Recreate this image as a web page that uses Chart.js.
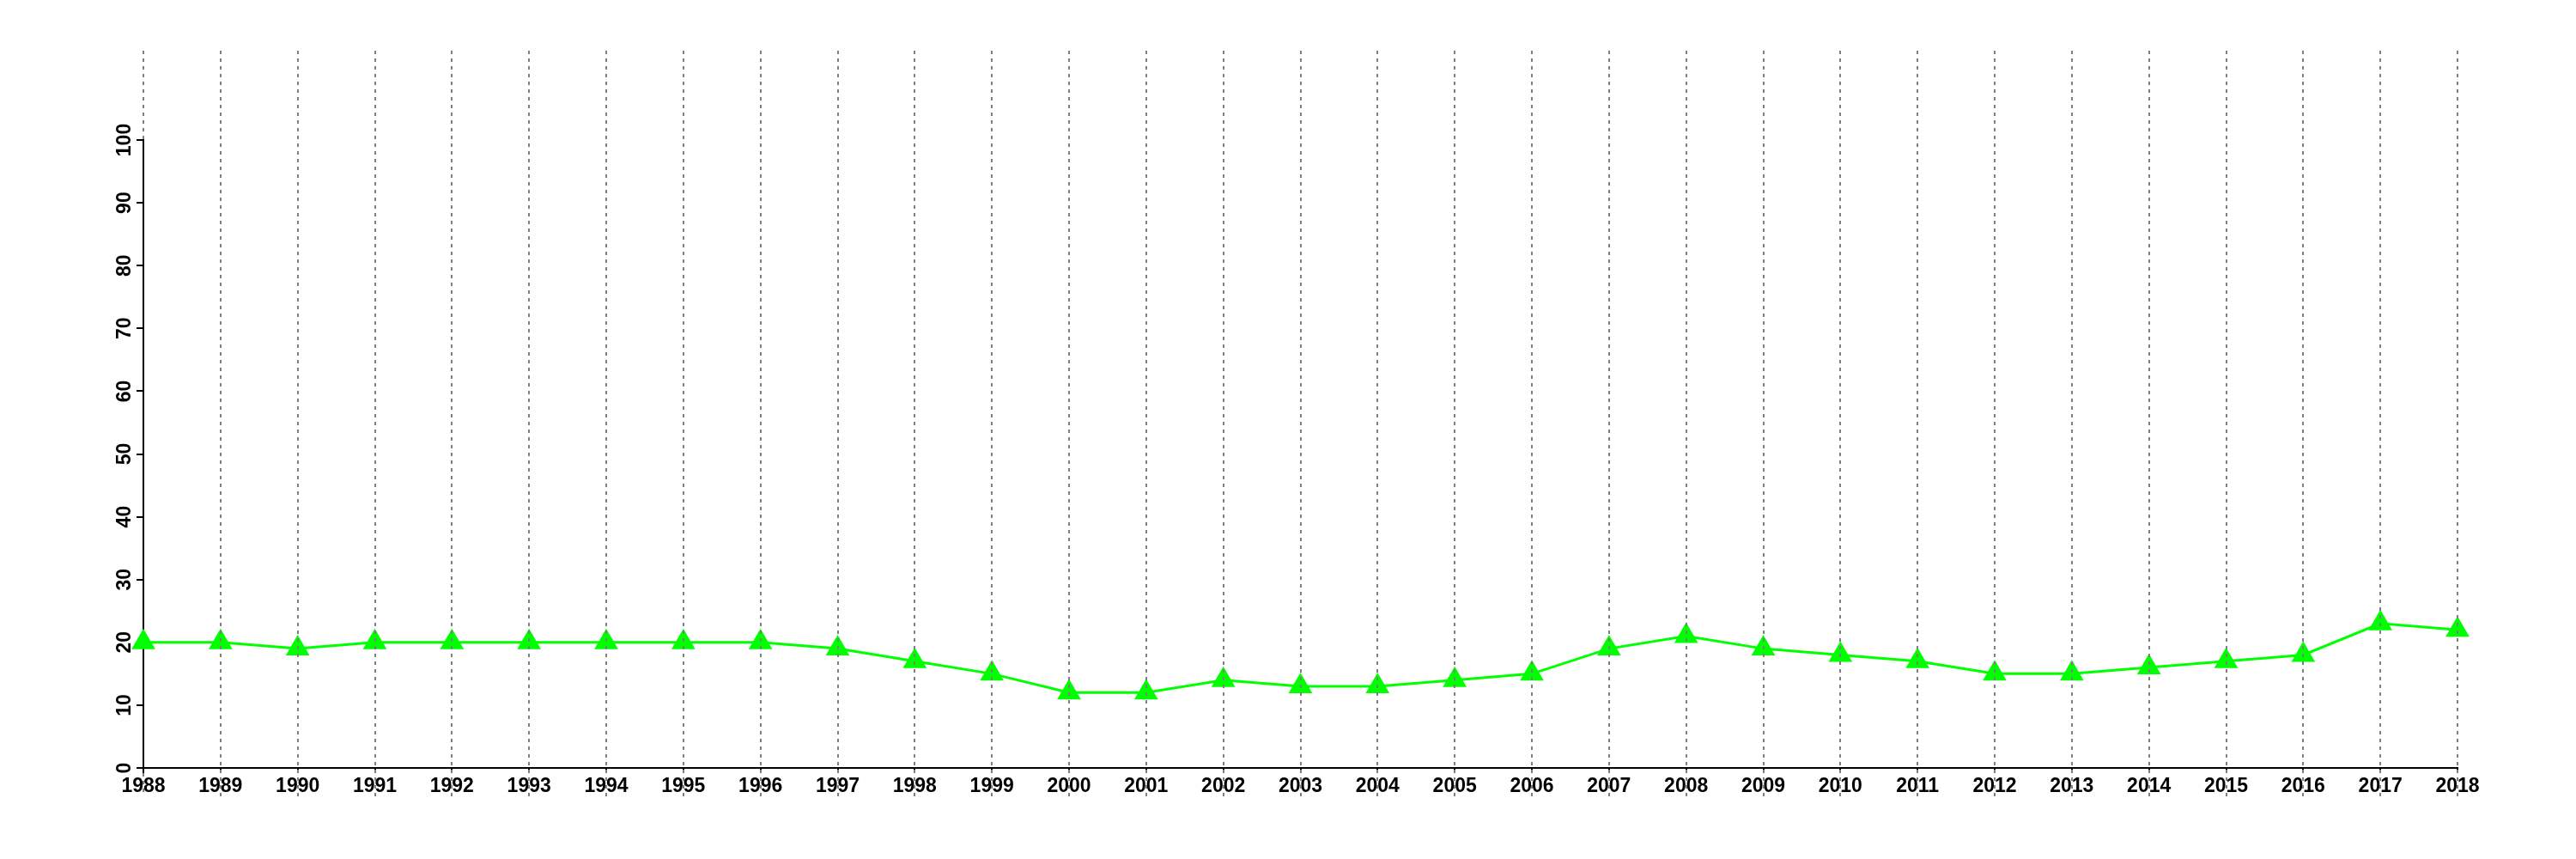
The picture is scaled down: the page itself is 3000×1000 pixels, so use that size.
<!DOCTYPE html>
<html>
<head>
<meta charset="utf-8">
<title>Chart</title>
<script src="https://cdn.jsdelivr.net/npm/chart.js@4"></script>
<style>
  html, body { margin: 0; padding: 0; background: #ffffff; }
  canvas { display: block; }
</style>
</head>
<body>
<canvas id="chart" width="3000" height="1000"></canvas>
<script>
// Data
const years = [
  "1988", "1989", "1990", "1991", "1992", "1993", "1994", "1995",
  "1996", "1997", "1998", "1999", "2000", "2001", "2002", "2003",
  "2004", "2005", "2006", "2007", "2008", "2009", "2010", "2011",
  "2012", "2013", "2014", "2015", "2016", "2017", "2018",
];
const values = [
  20, 20, 19, 20, 20, 20, 20, 20,
  20, 19, 17, 15, 12, 12, 14, 13,
  13, 14, 15, 19, 21, 19, 18, 17,
  15, 15, 16, 17, 18, 23, 22,
];
const yMin = 0;
const yMax = 100;
const yStep = 10;

const FONT_FAMILY = "'Liberation Sans', Arial, Helvetica, sans-serif";

// Rotated y tick labels (reading bottom to top)
const yLabelsPlugin = {
  id: "yLabels",
  afterDraw(chart) {
    const ctx = chart.ctx;
    const yScale = chart.scales.y;
    const left = chart.chartArea.left;
    ctx.save();
    ctx.fillStyle = "#000000";
    ctx.font = "bold 23px " + FONT_FAMILY;
    ctx.textAlign = "center";
    ctx.textBaseline = "alphabetic";
    yScale.ticks.forEach((tick) => {
      const py = yScale.getPixelForValue(tick.value);
      ctx.save();
      ctx.translate(left - 15, py);
      ctx.rotate(-Math.PI / 2);
      ctx.fillText(String(tick.value), 0, 0);
      ctx.restore();
    });
    ctx.restore();
  },
};

// Dotted vertical lines at each year, drawn on top like the reference
const yearLinesPlugin = {
  id: "yearLines",
  afterDraw(chart) {
    const ctx = chart.ctx;
    const xScale = chart.scales.x;
    const area = chart.chartArea;
    const top = area.top - 104;
    const bottom = area.bottom + 33;
    ctx.save();
    ctx.strokeStyle = "#7f7f7f";
    ctx.lineWidth = 2;
    ctx.setLineDash([4, 5]);
    years.forEach((year, i) => {
      const px = Math.round(xScale.getPixelForValue(i));
      ctx.beginPath();
      if (i === 0) {
        // keep the solid y axis visible
        ctx.moveTo(px, top);
        ctx.lineTo(px, area.top);
        ctx.moveTo(px, area.bottom + 6);
        ctx.lineTo(px, bottom);
      } else {
        ctx.moveTo(px, top);
        ctx.lineTo(px, bottom);
      }
      ctx.stroke();
    });
    ctx.restore();
  },
};

const ctx = document.getElementById("chart").getContext("2d");
new Chart(ctx, {
  type: "line",
  data: {
    labels: years,
    datasets: [
      {
        data: values,
        borderColor: "#00ff00",
        backgroundColor: "#00ff00",
        borderWidth: 3,
        tension: 0,
        fill: false,
        clip: false,
        pointStyle: "triangle",
        pointRadius: 16,
        pointBorderWidth: 0,
        pointBackgroundColor: "#00ff00",
        pointBorderColor: "#00ff00",
      },
    ],
  },
  options: {
    responsive: false,
    devicePixelRatio: 1,
    animation: false,
    layout: {
      padding: { left: 107, right: 138, top: 163, bottom: 56 },
    },
    plugins: {
      legend: { display: false },
      tooltip: { enabled: false },
      title: { display: false },
    },
    scales: {
      x: {
        type: "category",
        offset: false,
        grid: {
          display: true,
          drawOnChartArea: false,
          drawTicks: true,
          tickLength: 6,
          color: "#000000",
          lineWidth: 2,
        },
        border: { display: true, color: "#000000", width: 2 },
        ticks: {
          autoSkip: false,
          maxRotation: 0,
          minRotation: 0,
          padding: 2,
          color: "#000000",
          font: { family: FONT_FAMILY, size: 23, weight: "bold" },
        },
        afterFit(scale) {
          scale.height = 50;
        },
      },
      y: {
        min: yMin,
        max: yMax,
        grid: {
          display: true,
          drawOnChartArea: false,
          drawTicks: true,
          tickLength: 8,
          color: "#000000",
          lineWidth: 2,
        },
        border: { display: true, color: "#000000", width: 2 },
        ticks: {
          display: false,
          stepSize: yStep,
        },
        afterFit(scale) {
          scale.width = 60;
        },
      },
    },
  },
  plugins: [yLabelsPlugin, yearLinesPlugin],
});
</script>
</body>
</html>
